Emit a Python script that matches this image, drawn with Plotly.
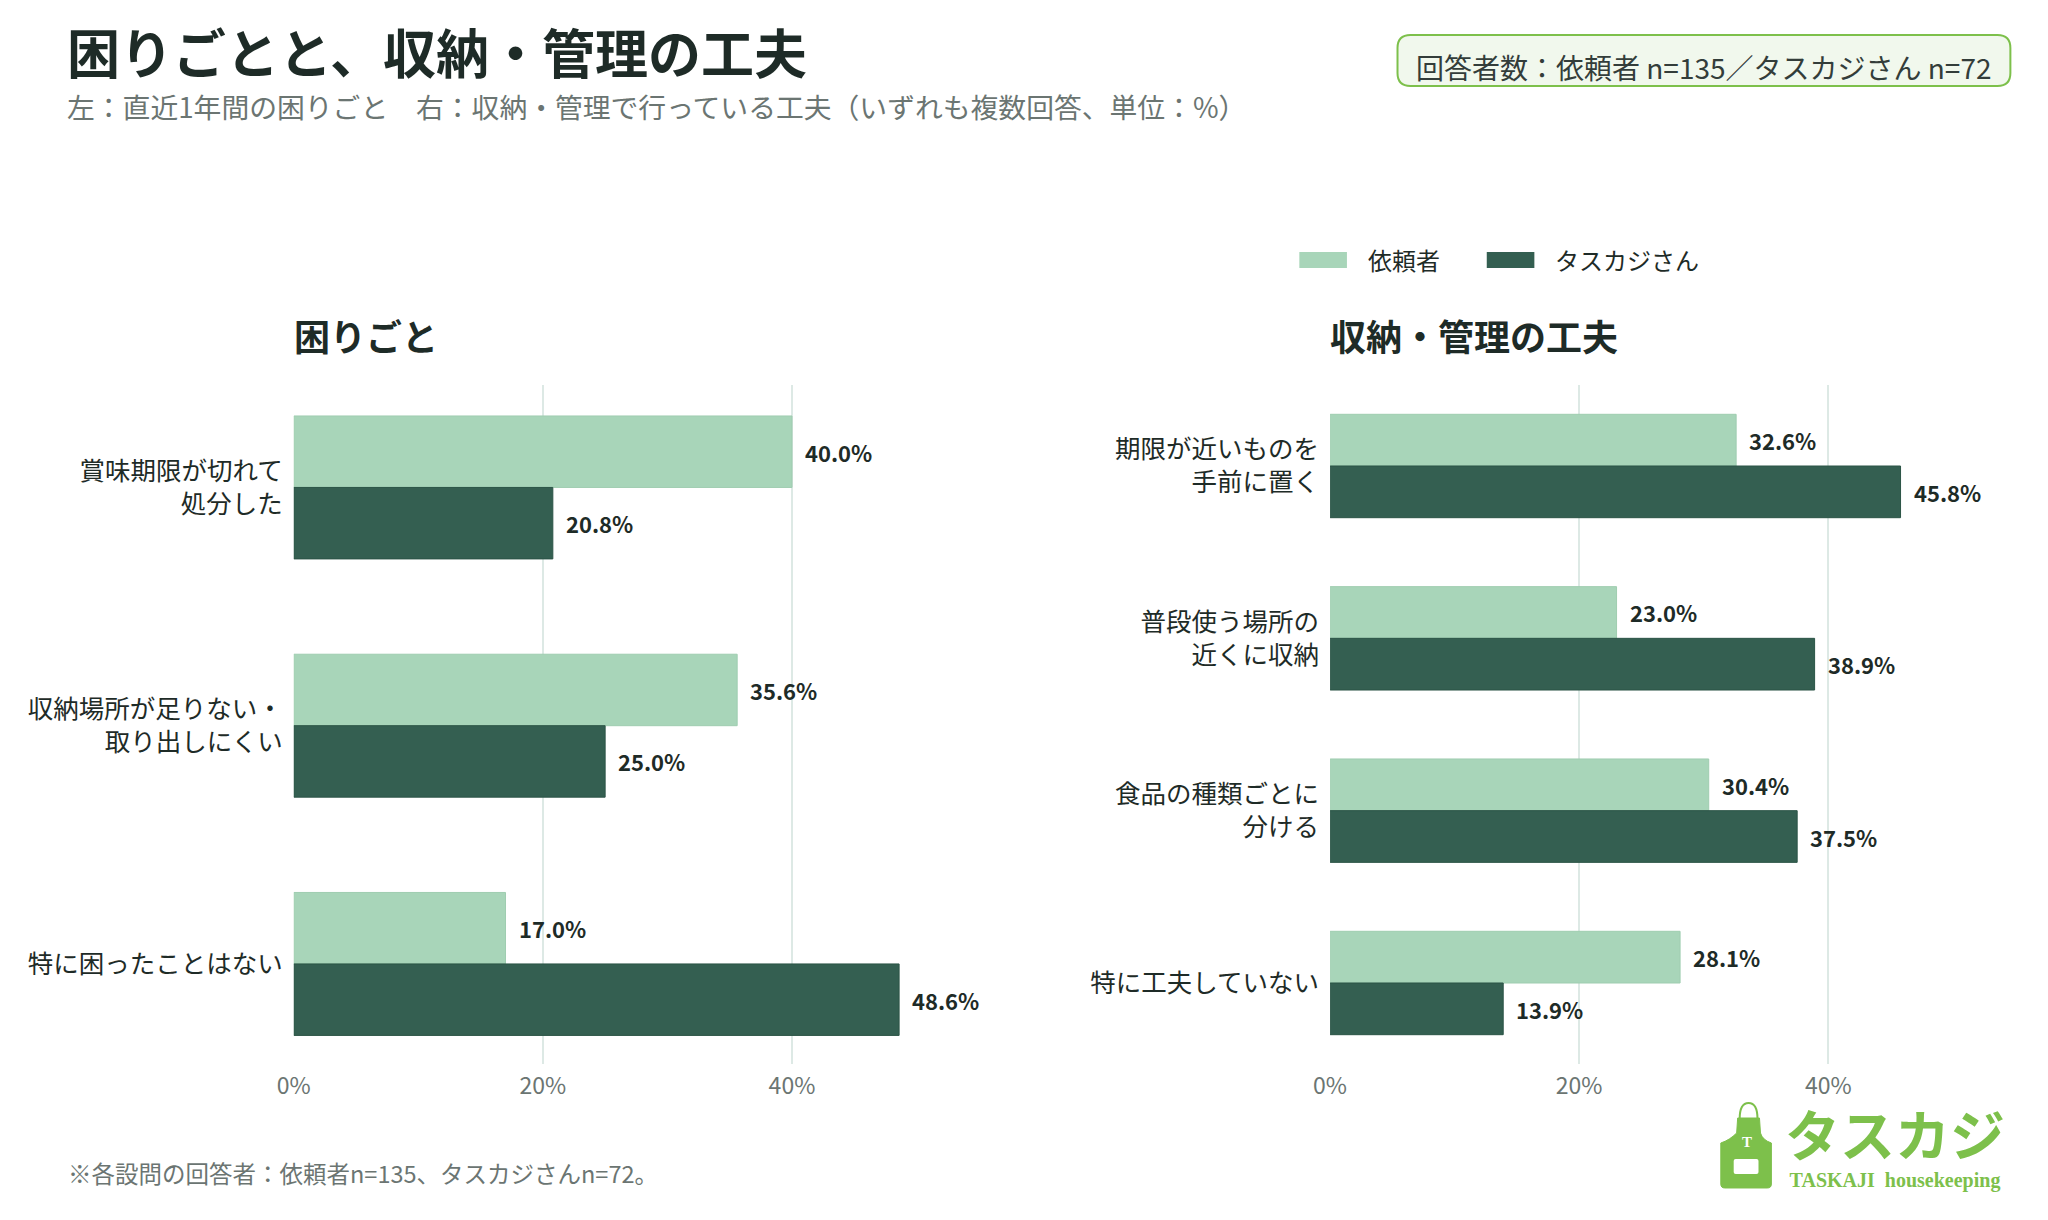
import plotly.graph_objects as go

W, H = 2048, 1220

# ---- data ----
left_categories = ["賞味期限が切れて<br>処分した", "収納場所が足りない・<br>取り出しにくい", "特に困ったことはない"]
left_irainin = [40.0, 35.6, 17.0]
left_taskaji = [20.8, 25.0, 48.6]

right_categories = ["期限が近いものを<br>手前に置く", "普段使う場所の<br>近くに収納", "食品の種類ごとに<br>分ける", "特に工夫していない"]
right_irainin = [32.6, 23.0, 30.4, 28.1]
right_taskaji = [45.8, 38.9, 37.5, 13.9]

series_names = ["依頼者", "タスカジさん"]
x_tickvals = [0, 20, 40]
x_ticktext = ["0%", "20%", "40%"]

# ---- style ----
FONT = "Noto Sans CJK JP"
LIGHT = "#a8d5b9"
DARK = "#345f51"
TEXT = "#1e2b27"
GRAY = "#6b7572"
GRID = "#dde9e5"
LOGO = "#7dc04b"

L0 = 271      # left panel x=0 (px)
R0 = 1316     # right panel x=0 (px)
SPAN = 628    # px for 0..50
TOP, BOT = 377, 1056


def px(x):
    return x / W


def py(y):
    return 1 - y / H


fig = go.Figure()

# bars
panels = [
    ("x", "y", left_categories, left_irainin, left_taskaji),
    ("x2", "y2", right_categories, right_irainin, right_taskaji),
]
for xa, ya, cats, v1, v2 in panels:
    fig.add_trace(go.Bar(y=cats, x=v1, orientation="h", name=series_names[0],
                         marker=dict(color=LIGHT, line=dict(color="#9fcdb0", width=1)),
                         xaxis=xa, yaxis=ya, showlegend=False, hoverinfo="x+y"))
    fig.add_trace(go.Bar(y=cats, x=v2, orientation="h", name=series_names[1],
                         marker=dict(color=DARK, line=dict(color="#2b5446", width=1)),
                         xaxis=xa, yaxis=ya, showlegend=False, hoverinfo="x+y"))

annotations = []
# value labels next to each bar
for xa, ya, cats, v1, v2 in panels:
    for i in range(len(cats)):
        for off, val in ((-0.15, v1[i]), (0.15, v2[i])):
            annotations.append(dict(
                x=val, y=i + off, xref=xa, yref=ya, text=f"<b>{val:.1f}%</b>",
                showarrow=False, xanchor="left", yanchor="middle", xshift=11,
                font=dict(family=FONT, size=22, color=TEXT)))

# panel titles
annotations.append(dict(x=px(L0 - 2), y=py(327), xref="paper", yref="paper", text="<b>困りごと</b>",
                        showarrow=False, xanchor="left", yanchor="middle",
                        font=dict(family=FONT, size=36, color=TEXT)))
annotations.append(dict(x=px(R0 - 2), y=py(327), xref="paper", yref="paper", text="<b>収納・管理の工夫</b>",
                        showarrow=False, xanchor="left", yanchor="middle",
                        font=dict(family=FONT, size=36, color=TEXT)))

# title / subtitle / note
annotations.append(dict(x=px(40), y=py(43), xref="paper", yref="paper", text="<b>困りごとと、収納・管理の工夫</b>",
                        showarrow=False, xanchor="left", yanchor="middle",
                        font=dict(family=FONT, size=53, color=TEXT)))
annotations.append(dict(x=px(40), y=py(98), xref="paper", yref="paper",
                        text="左：直近1年間の困りごと　右：収納・管理で行っている工夫（いずれも複数回答、単位：%）",
                        showarrow=False, xanchor="left", yanchor="middle",
                        font=dict(family=FONT, size=27.8, color=GRAY)))
annotations.append(dict(x=px(41), y=py(1165), xref="paper", yref="paper",
                        text="※各設問の回答者：依頼者n=135、タスカジさんn=72。",
                        showarrow=False, xanchor="left", yanchor="middle",
                        font=dict(family=FONT, size=23.5, color=GRAY)))

# respondents box text
annotations.append(dict(x=px(1693), y=py(59), xref="paper", yref="paper",
                        text="回答者数：依頼者 n=135／タスカジさん n=72",
                        showarrow=False, xanchor="center", yanchor="middle",
                        font=dict(family=FONT, size=28, color="#333d3a")))

# legend labels
annotations.append(dict(x=px(1352), y=py(252), xref="paper", yref="paper", text=series_names[0],
                        showarrow=False, xanchor="left", yanchor="middle",
                        font=dict(family=FONT, size=24, color=TEXT)))
annotations.append(dict(x=px(1541), y=py(252), xref="paper", yref="paper", text=series_names[1],
                        showarrow=False, xanchor="left", yanchor="middle",
                        font=dict(family=FONT, size=24, color=TEXT)))

# logo text (one block: wordmark + tagline)
annotations.append(dict(
    x=px(1886), y=py(1141), xref="paper", yref="paper",
    text=("<span style='font-size:55px;font-weight:bold'>タスカジ</span><br>"
          "<span style='font-size:20px;font-weight:bold'>TASKAJI  housekeeping</span>"),
    showarrow=False, xanchor="center", yanchor="middle", align="center",
    font=dict(family="Liberation Serif, Noto Sans CJK JP", size=24, color=LOGO)))
annotations.append(dict(x=px(1736), y=py(1134), xref="paper", yref="paper", text="<b>T</b>",
                        showarrow=False, xanchor="center", yanchor="middle",
                        font=dict(family="Liberation Serif", size=15, color="white")))

shapes = []


def path_str(cmds):
    s = ""
    for cmd, cs in cmds:
        s += cmd + " ".join(f"{px(a):.5f},{py(b):.5f}" for a, b in cs) + " "
    return s


def rounded_rect(x0, y0, x1, y1, r):
    return path_str([
        ("M", [(x0 + r, y0)]), ("L", [(x1 - r, y0)]), ("Q", [(x1, y0), (x1, y0 + r)]),
        ("L", [(x1, y1 - r)]), ("Q", [(x1, y1), (x1 - r, y1)]), ("L", [(x0 + r, y1)]),
        ("Q", [(x0, y1), (x0, y1 - r)]), ("L", [(x0, y0 + r)]), ("Q", [(x0, y0), (x0 + r, y0)]),
    ]) + "Z"


# respondents box
shapes.append(dict(type="path", xref="paper", yref="paper", path=rounded_rect(1384, 27, 2002, 78, 13),
                   fillcolor="#f1f8ed", line=dict(color=LOGO, width=2), layer="below"))

# legend swatches
shapes.append(dict(type="rect", xref="paper", yref="paper", x0=px(1285), x1=px(1333), y0=py(244), y1=py(260),
                   fillcolor=LIGHT, line=dict(width=0)))
shapes.append(dict(type="rect", xref="paper", yref="paper", x0=px(1474), x1=px(1522), y0=py(244), y1=py(260),
                   fillcolor=DARK, line=dict(width=0)))

# apron logo
ax, ay = -10, -9
apron = path_str([
    ("M", [(1737 + ax, 1119 + ay)]), ("L", [(1759 + ax, 1119 + ay)]), ("L", [(1760 + ax, 1134 + ay)]),
    ("Q", [(1762 + ax, 1141 + ay), (1771 + ax, 1144 + ay)]), ("L", [(1771 + ax, 1185 + ay)]),
    ("Q", [(1771 + ax, 1189 + ay), (1767 + ax, 1189 + ay)]),
    ("L", [(1724 + ax, 1189 + ay)]), ("Q", [(1720 + ax, 1189 + ay), (1720 + ax, 1185 + ay)]),
    ("L", [(1720 + ax, 1144 + ay)]), ("Q", [(1729 + ax, 1141 + ay), (1736 + ax, 1134 + ay)]),
]) + "Z"
shapes.append(dict(type="path", xref="paper", yref="paper", path=apron,
                   fillcolor=LOGO, line=dict(color=LOGO, width=1)))
strap = path_str([("M", [(1739 + ax, 1120 + ay)]), ("Q", [(1739 + ax, 1104 + ay), (1748 + ax, 1104 + ay)]),
                  ("Q", [(1757 + ax, 1104 + ay), (1757 + ax, 1120 + ay)])])
shapes.append(dict(type="path", xref="paper", yref="paper", path=strap,
                   line=dict(color=LOGO, width=2)))
shapes.append(dict(type="path", xref="paper", yref="paper",
                   path=rounded_rect(1733 + ax, 1160 + ay, 1758 + ax, 1175 + ay, 2),
                   fillcolor="white", line=dict(width=0)))

ydom = [py(BOT), py(TOP)]
xaxis_common = dict(range=[0, 50], tickvals=x_tickvals, ticktext=x_ticktext, showgrid=True,
                    gridcolor=GRID, gridwidth=1.5, zeroline=False, showline=False, ticks="",
                    ticklabelstandoff=6,
                    tickfont=dict(family=FONT, size=23, color=GRAY), fixedrange=True)
yaxis_common = dict(showgrid=False, zeroline=False, showline=False, ticks="", ticklabelstandoff=10,
                    tickfont=dict(family=FONT, size=25.5, color=TEXT), type="category")

fig.update_layout(
    width=W, height=H,
    margin=dict(l=0, r=0, t=0, b=0),
    paper_bgcolor="white", plot_bgcolor="white",
    barmode="group", bargap=0.4, bargroupgap=0,
    showlegend=False,
    font=dict(family=FONT, color=TEXT),
    xaxis=dict(domain=[px(L0), px(L0 + SPAN)], anchor="y", **xaxis_common),
    xaxis2=dict(domain=[px(R0), px(R0 + SPAN)], anchor="y2", **xaxis_common),
    yaxis=dict(domain=ydom, anchor="x", range=[2.42, -0.43], **yaxis_common),
    yaxis2=dict(domain=ydom, anchor="x2", range=[3.47, -0.47], **yaxis_common),
    annotations=annotations,
    shapes=shapes,
)

fig.write_html("out.html")
